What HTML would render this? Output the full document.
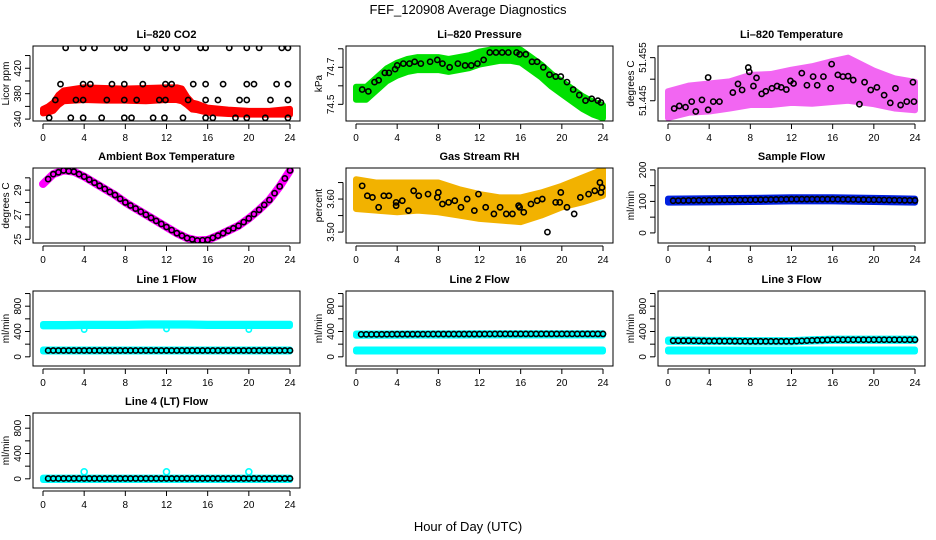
<!DOCTYPE html>
<html><head><meta charset="utf-8"><style>
body{margin:0;background:#fff}
svg{display:block}
text{font-family:"Liberation Sans",sans-serif;fill:#000}
.t{font-weight:bold;font-size:11px}
.k{font-size:10px}
</style></head><body>
<svg id="c" width="936" height="540" viewBox="0 0 936 540">
<text x="468" y="14" text-anchor="middle" font-size="13">FEF_120908  Average Diagnostics</text>
<text x="468" y="531" text-anchor="middle" font-size="13">Hour of Day (UTC)</text>
</svg>
<script>
// ---- data ----
const hours = [0,2,4,6,8,10,12,14,16,18,20,22,24];
const xTicks = [0,4,8,12,16,20,24];
// CO2
const co2Hours = [0,0.5,1,1.5,2,4,6,8,10,12,13,13.5,14,14.5,15,16,18,20,22,24];
const co2Lo = [349,350,353,362,368,370,369,369,368,370,370,368,362,355,354,350,348,347,347,347];
const co2Hi = [356,360,366,378,385,390,389,388,389,390,390,388,375,366,364,358,355,353,353,356];
const co2PtX = [2.2,3.9,5,7.2,7.9,10.1,11.9,13,15.3,15.8,18.1,19.8,21,23.2,23.8,1.7,3.9,4.6,6.7,7.9,9.7,11.9,12.5,14.6,15.8,17.5,19.8,20.5,22.7,23.8,1.2,3.2,3.9,6.2,7.9,9.1,11.3,11.9,14.1,15.8,17,19.1,19.8,22.1,23.8,0.6,2.7,3.9,5.7,7.9,8.6,10.7,11.8,13.6,15.8,16.5,18.7,19.8,21.6,23.8];
const co2PtY = [452,452,452,452,452,452,452,452,452,452,452,452,452,452,452,395,395,395,395,395,395,395,395,395,395,395,395,395,395,395,370,370,370,370,370,370,370,370,370,370,370,370,370,370,370,342,342,342,342,342,342,342,342,342,342,342,342,342,342,342];
// Pressure
const presHours = [0,1,2,3,4,5,6,7,8,9,10,11,12,13,14,15,16,17,18,19,20,21,22,23,24];
const presMid = [74.56,74.56,74.61,74.66,74.69,74.71,74.72,74.72,74.72,74.71,74.72,74.73,74.75,74.76,74.77,74.77,74.76,74.72,74.68,74.63,74.59,74.55,74.51,74.48,74.46];
const presPtX = [0.6,1.2,1.8,2.2,2.8,3.2,3.8,4,4.6,5.2,5.7,6.3,7.2,7.9,8.4,9.1,9.9,10.6,11.2,11.8,12.4,13,13.6,14.2,14.8,15.6,15.9,16.5,17.1,17.6,18.2,18.8,19.4,19.9,20.5,21.1,21.7,22.3,22.9,23.5,23.8];
const presPtY = [74.58,74.57,74.62,74.63,74.67,74.67,74.69,74.71,74.72,74.72,74.73,74.72,74.73,74.74,74.72,74.7,74.72,74.71,74.71,74.72,74.74,74.78,74.78,74.78,74.78,74.78,74.77,74.77,74.73,74.73,74.7,74.66,74.65,74.65,74.62,74.58,74.55,74.52,74.53,74.52,74.51];
// Li-820 temperature
const tmpHours = [0,2,4,6,8,10,12,14,16,17.5,20,22,24];
const tmpLo = [51.4410,51.4422,51.4425,51.4432,51.4440,51.4440,51.4445,51.4443,51.4447,51.4450,51.4442,51.4432,51.4428];
const tmpHi = [51.4472,51.4485,51.4490,51.4495,51.4510,51.4512,51.4522,51.4530,51.4542,51.4550,51.4520,51.4502,51.4494];
const tmpPtX = [0.6,1.1,1.7,2.3,2.7,3.3,3.9,3.9,4.4,5,6.3,6.8,7.2,7.8,7.9,8.3,8.6,9.1,9.5,10.1,10.6,11,11.5,11.9,12.2,13,13.5,14.1,14.5,15.1,15.8,15.9,16.5,17,17.5,18,18.6,19.1,19.7,20.3,21,21.6,22.1,22.6,23.2,23.8,23.9];
const tmpPtY = [51.4432,51.4438,51.4435,51.4448,51.4425,51.4452,51.4504,51.4429,51.4448,51.4448,51.4469,51.4489,51.4475,51.4527,51.4517,51.4484,51.4503,51.4466,51.4472,51.4479,51.4484,51.4481,51.4476,51.4496,51.4490,51.4514,51.4486,51.4506,51.4486,51.4506,51.4479,51.4535,51.4510,51.4506,51.4507,51.4498,51.4442,51.4493,51.4475,51.4481,51.4463,51.4445,51.4479,51.4440,51.4448,51.4493,51.4448];
// Ambient box temperature
const ambHours = [0,1,2,3,4,5,6,7,8,9,10,11,12,13,14,15,16,17,18,19,20,21,22,23,24];
const ambTemp = [29.5,30.3,30.6,30.5,30.1,29.6,29.1,28.6,28.0,27.5,27.0,26.5,26.0,25.5,25.1,24.9,24.95,25.3,25.7,26.1,26.7,27.4,28.2,29.3,30.6];
// Gas stream RH
const rhHours = [0,2,4,6,8,10,12,14,16,18,20,22,24];
const rhLo = [3.57,3.565,3.56,3.565,3.56,3.55,3.54,3.535,3.53,3.55,3.575,3.59,3.61];
const rhHi = [3.66,3.65,3.65,3.65,3.65,3.63,3.615,3.605,3.605,3.62,3.64,3.665,3.69];
const rhPtX = [0.6,1.1,1.6,2.2,2.7,3.2,3.9,3.9,4.5,5.1,5.6,6.1,7,7.9,8,8.4,9,9.6,10.2,10.8,11.5,11.9,12.6,13.4,14,14.6,15.2,15.8,15.9,16.3,17,17.6,18.1,18.6,19.4,19.8,19.9,20.5,21.2,21.8,22.6,23.2,23.7,23.8,23.9];
const rhPtY = [3.64,3.61,3.605,3.575,3.61,3.61,3.59,3.58,3.595,3.565,3.625,3.61,3.615,3.605,3.62,3.585,3.59,3.595,3.575,3.60,3.565,3.615,3.575,3.555,3.575,3.555,3.555,3.58,3.575,3.56,3.585,3.595,3.60,3.5,3.59,3.59,3.62,3.575,3.555,3.605,3.615,3.625,3.65,3.62,3.635];
// Sample flow
const sfHours = [0,4,8,12,16,20,24];
const sfLo = [96,97,98,100,100,98,96];
const sfHi = [109,110,111,113,113,111,109];
const sfMean = [102,104,105,107,107,105,103];
// Line flows (mean levels at each hour of 'hours')
const l1Cyan = [500,500,505,505,505,510,510,510,505,505,505,505,505];
const l1Cyan2 = [100,100,100,100,100,100,100,100,100,100,100,100,100];
const l1Black = [100,100,100,100,100,100,100,100,100,100,100,100,100];
const l2Cyan = [350,350,350,352,352,352,355,355,355,355,355,355,355];
const l2Cyan2 = [100,100,100,100,100,100,100,100,100,100,100,100,100];
const l2Black = [355,355,358,358,360,360,360,362,362,362,362,362,362];
const l3Cyan = [255,255,250,250,245,245,245,260,270,270,270,270,270];
const l3Cyan2 = [100,100,100,100,100,100,100,100,100,100,100,100,100];
const l3Black = [255,255,250,248,245,245,245,260,270,270,270,270,270];
const l4Cyan = [0,0,0,0,0,0,0,0,0,0,0,0,0];
const l4Black = [5,5,5,5,5,5,5,5,5,5,5,5,5];
const spikeHours = [4,12,20];
const l4Spikes = [110,110,110];
const flowOutliers = [430,440,430];

// ---- layout ----
const svg = document.getElementById('c');
const NS = 'http://www.w3.org/2000/svg';
const colL = [33,346,658], rowT = [46,168,291,413], W = 267, H = 75;
function el(tag, attrs, parent){const e=document.createElementNS(NS,tag);for(const k in attrs)e.setAttribute(k,attrs[k]);(parent||svg).appendChild(e);return e;}
function interp(xs, ys, x){for(let i=0;i<xs.length-1;i++){if(x<=xs[i+1]){const t=(x-xs[i])/(xs[i+1]-xs[i]);return ys[i]+t*(ys[i+1]-ys[i]);}}return ys[ys.length-1];}

function panel(name, title, ylab, c, r, ymin, ymax, ticks, labels){
  const L=colL[c], T=rowT[r];
  const g=el('g',{});
  
  
  const sx=v=>L+10+v/24*247;
  const sy=v=>T+H-(v-ymin)/(ymax-ymin)*H;
  const tt=el('text',{x:L+W/2,y:T-8,'text-anchor':'middle',class:'t'},g); tt.textContent=title;
  
  
  const clip=el('clipPath',{id:'cl'+name},g); el('rect',{x:L,y:T,width:W,height:H},clip);
  const plot=el('g',{'clip-path':'url(#cl'+name+')'},g);
  const xa=el('g',{},g);
  
  
  el('line',{x1:sx(0),x2:sx(24),y1:T+H+3,y2:T+H+3,stroke:'#000'},xa);
  xTicks.forEach(v=>{el('line',{x1:sx(v),x2:sx(v),y1:T+H+3,y2:T+H+8,stroke:'#000'},xa);
    const t=el('text',{x:sx(v),y:T+H+20,'text-anchor':'middle',class:'k'},xa);t.textContent=v;});
  const ya=el('g',{},g);
  
  
  el('line',{x1:L-3,x2:L-3,y1:sy(ticks[0]),y2:sy(ticks[ticks.length-1]),stroke:'#000'},ya);
  ticks.forEach((v,i)=>{el('line',{x1:L-3,x2:L-8,y1:sy(v),y2:sy(v),stroke:'#000'},ya);
    if(labels[i]!==''){const t=el('text',{x:L-12,y:sy(v),'text-anchor':'middle',class:'k',transform:`rotate(-90 ${L-12} ${sy(v)})`},ya);t.textContent=labels[i];}});
  const yt=el('text',{x:L-24,y:T+H/2,'text-anchor':'middle',class:'k',transform:`rotate(-90 ${L-24} ${T+H/2})`},g); yt.textContent=ylab;
  
  
  el('rect',{x:L,y:T,width:W,height:H,fill:'none',stroke:'#000'},g);
  return {plot,sx,sy,name};
}
function band(p, xs, lo, hi, color, label, op){
  let d='M'+xs.map((x,i)=>p.sx(x)+','+p.sy(hi[i])).join('L')+'L'+xs.slice().reverse().map((x,i)=>p.sx(x)+','+p.sy(lo[lo.length-1-i])).join('L')+'Z';
  const b=el('path',{d,fill:color,stroke:color,'stroke-width':6,'stroke-linejoin':'round','opacity':op||1},p.plot);
  
  
}
function pts(p, xs, ys, color, label, r){
  const g=el('g',{},p.plot);
  
  
  xs.forEach((x,i)=>el('circle',{cx:p.sx(x),cy:p.sy(ys[i]),r:r||2.6,fill:'none',stroke:color,'stroke-width':1.6},g));
}
function sampled(xs, ys, step){const ox=[],oy=[];for(let x=0.5;x<=24.001;x+=step){ox.push(x);oy.push(interp(xs,ys,x));}return [ox,oy];}

let p=panel('co2','Li\u2013820 CO2','Licor ppm',0,0,337,455,[340,360,380,400,420,440],['340','','380','','420','']);
band(p,co2Hours,co2Lo,co2Hi,'#ff0000','red-band'); pts(p,co2PtX,co2PtY,'#000','black-points');
p=panel('pressure','Li\u2013820 Pressure','kPa',1,0,74.41,74.815,[74.5,74.6,74.7,74.8],['74.5','','74.7','']);
band(p,presHours,presMid.map(v=>v-0.035),presMid.map(v=>v+0.035),'#00e000','green-band'); pts(p,presPtX,presPtY,'#000','black-points');
p=panel('li820-temp','Li\u2013820 Temperature','degrees C',2,0,51.4403,51.4577,[51.445,51.450,51.455],['51.445','','51.455']);
band(p,tmpHours,tmpLo,tmpHi,'#f040f0','magenta-band',0.8); pts(p,tmpPtX,tmpPtY,'#000','black-points');
p=panel('ambient-temp','Ambient Box Temperature','degrees C',0,1,24.7,30.8,[25,26,27,28,29,30],['25','','27','','29','']);
{const l=el('polyline',{points:ambHours.map((x,i)=>p.sx(x)+','+p.sy(ambTemp[i])).join(' '),fill:'none',stroke:'#ff00ff','stroke-width':8,'stroke-linecap':'round'},p.plot);


const s=sampled(ambHours,ambTemp,0.5); pts(p,s[0],s[1],'#000','black-points');}
p=panel('rh','Gas Stream RH','percent',1,1,3.467,3.694,[3.50,3.55,3.60,3.65],['3.50','','3.60','']);
band(p,rhHours,rhLo,rhHi,'#f2b200','orange-band'); pts(p,rhPtX,rhPtY,'#000','black-points');
p=panel('sample-flow','Sample Flow','ml/min',2,1,-32,206,[0,50,100,150,200],['0','','100','','200']);
band(p,sfHours,sfLo,sfHi,'#0020e0','blue-band');
{const s=sampled(sfHours,sfMean,0.5); pts(p,s[0],s[1],'#000','black-points');}
const fT=[0,200,400,600,800,1000], fL=['0','','400','','800',''];
function flow(name,title,c,r,cy1,cy2,blk){
  const q=panel(name,title,'ml/min',c,r,-145,1040,fT,fL);
  band(q,hours,cy1.map(v=>v-18),cy1.map(v=>v+18),'#00ffff','cyan-band');
  if(cy2) band(q,hours,cy2.map(v=>v-15),cy2.map(v=>v+15),'#00ffff','cyan-band-2');
  const s=sampled(hours,blk,0.5); pts(q,s[0],s[1],'#000','black-points');
  return q;
}
p=flow('line1-flow','Line 1 Flow',0,2,l1Cyan,l1Cyan2,l1Black); pts(p,spikeHours,flowOutliers,'#00ffff','cyan-outliers');
p=flow('line2-flow','Line 2 Flow',1,2,l2Cyan,l2Cyan2,l2Black);
p=flow('line3-flow','Line 3 Flow',2,2,l3Cyan,l3Cyan2,l3Black);
p=flow('line4-flow','Line 4 (LT) Flow',0,3,l4Cyan,null,l4Black); pts(p,spikeHours,l4Spikes,'#00ffff','cyan-spikes',3);
</script>
</body></html>
